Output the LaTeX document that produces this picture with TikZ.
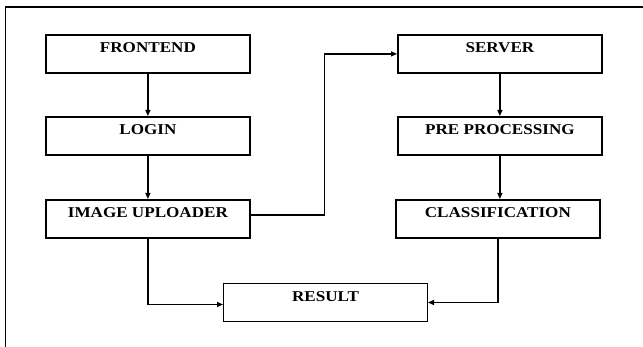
\documentclass[tikz,border=0pt]{standalone}
\usepackage{fontspec}
\setmainfont{Liberation Serif}
\usetikzlibrary{arrows.meta}
\begin{document}
\begin{tikzpicture}[x=1pt,y=-1pt,
  box/.style={draw, line width=1.8pt, minimum width=204pt, minimum height=38pt, inner sep=0pt, anchor=north west},
  thinbox/.style={box, line width=1pt},
  lbl/.style={font=\bfseries\fontsize{15}{15}\selectfont, inner sep=0pt},
  conn/.style={line width=1.3pt, -{Triangle[length=6pt,width=5pt]}}]
\useasboundingbox (0,0) rectangle (643,347);
\draw[line width=1.1pt] (643,7) -- (5.5,7) -- (5.5,347);

\node[box] (fe) at (45,34) {};
\node[box] (login) at (45,116) {};
\node[box] (up) at (45,199) {};
\node[box] (server) at (397,34) {};
\node[box] (pre) at (397,116) {};
\node[box] (cls) at (395,199) {};
\node[thinbox] (res) at (223,283) {};

\node[lbl] (tfe) at ([yshift=-14pt]fe.north) {\scalebox{1.14}[1]{FRONTEND}};
\node[lbl] (tlogin) at ([yshift=-14pt]login.north) {\scalebox{1.14}[1]{LOGIN}};
\node[lbl] (tup) at ([yshift=-14pt]up.north) {\scalebox{1.14}[1]{IMAGE UPLOADER}};
\node[lbl] (tserver) at ([yshift=-14pt]server.north) {\scalebox{1.14}[1]{SERVER}};
\node[lbl] (tpre) at ([yshift=-14pt]pre.north) {\scalebox{1.14}[1]{PRE PROCESSING}};
\node[lbl] (tcls) at ([yshift=-14pt]cls.north) {\scalebox{1.14}[1]{CLASSIFICATION}};
\node[lbl] (tres) at ([yshift=-14pt]res.north) {\scalebox{1.14}[1]{RESULT}};

\draw[conn] (fe.south) -- (login.north);
\draw[conn] (login.south) -- (up.north);
\draw[conn] (server.south) -- (server.south |- pre.north);
\draw[conn] (pre.south) -- (pre.south |- cls.north);
\draw[conn] ([yshift=4pt]up.east) -- ++(74,0) |- (server.west);
\draw[conn] (up.south) |- ([yshift=-2pt]res.west);
\draw[conn] (cls.south) |- (res.east);
\end{tikzpicture}
\end{document}
